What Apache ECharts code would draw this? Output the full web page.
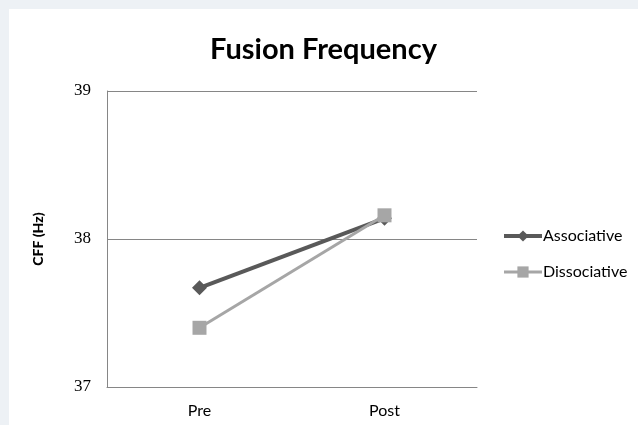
<!DOCTYPE html>
<html>
<head>
<meta charset="utf-8">
<script src="https://cdn.jsdelivr.net/npm/echarts@6/dist/echarts.min.js"></script>
<style>
  html, body { margin: 0; padding: 0; width: 638px; height: 425px; background: #edf1f5; overflow: hidden; }
  #chart { position: absolute; left: 9px; top: 9px; width: 629px; height: 416px; background: #ffffff; }
</style>
</head>
<body>
<div id="chart"></div>
<script>
// Phases measured
const categories = ['Pre', 'Post'];
// Critical flicker fusion frequency (Hz) per group
const associative = [37.67, 38.14];
const dissociative = [37.40, 38.16];
// Value-axis range
const yMin = 37, yMax = 39, yStep = 1;

const FONT = 'Lato, "Open Sans", sans-serif';

const chart = echarts.init(document.getElementById('chart'));
chart.setOption({
  animation: false,
  backgroundColor: '#ffffff',
  title: {
    text: 'Fusion Frequency',
    left: 'center',
    top: 21,
    textStyle: { fontFamily: FONT, fontWeight: 'bold', fontSize: 29, color: '#000' }
  },
  legend: {
    orient: 'vertical',
    left: 488,
    top: 214,
    itemWidth: 38,
    itemHeight: 14,
    itemGap: 20,
    textStyle: { fontFamily: FONT, fontSize: 16, color: '#000', padding: [0, 0, 0, -4] },
    data: [
      { name: 'Associative', lineStyle: { width: 4 } },
      { name: 'Dissociative', lineStyle: { width: 3 } }
    ]
  },
  grid: { left: 98, top: 82, right: 161, bottom: 38 },
  xAxis: {
    type: 'category',
    data: categories,
    boundaryGap: true,
    axisLine: { lineStyle: { color: '#868686', width: 1 } },
    axisTick: { show: false },
    axisLabel: { margin: 16, fontFamily: FONT, fontSize: 16, color: '#000' }
  },
  yAxis: {
    type: 'value',
    min: yMin,
    max: yMax,
    interval: yStep,
    name: 'CFF (Hz)',
    nameLocation: 'middle',
    nameGap: 62,
    nameRotate: 90,
    nameTextStyle: { fontFamily: FONT, fontWeight: 900, fontSize: 14, color: '#000' },
    axisLine: { show: true, lineStyle: { color: '#868686', width: 1 } },
    axisTick: { show: false },
    axisLabel: { margin: 16, fontFamily: '"Liberation Serif", "DejaVu Serif", serif', fontSize: 17, color: '#000' },
    splitLine: { lineStyle: { color: '#868686', width: 1 } }
  },
  series: [
    {
      name: 'Associative',
      type: 'line',
      data: associative,
      symbol: 'diamond',
      symbolSize: 15,
      color: '#595959',
      lineStyle: { width: 4, color: '#595959' },
      itemStyle: { color: '#595959' },
      z: 3
    },
    {
      name: 'Dissociative',
      type: 'line',
      data: dissociative,
      symbol: 'rect',
      symbolSize: 14,
      color: '#a6a6a6',
      lineStyle: { width: 3, color: '#a6a6a6' },
      itemStyle: { color: '#a6a6a6' },
      z: 4
    }
  ]
});
</script>
</body>
</html>
